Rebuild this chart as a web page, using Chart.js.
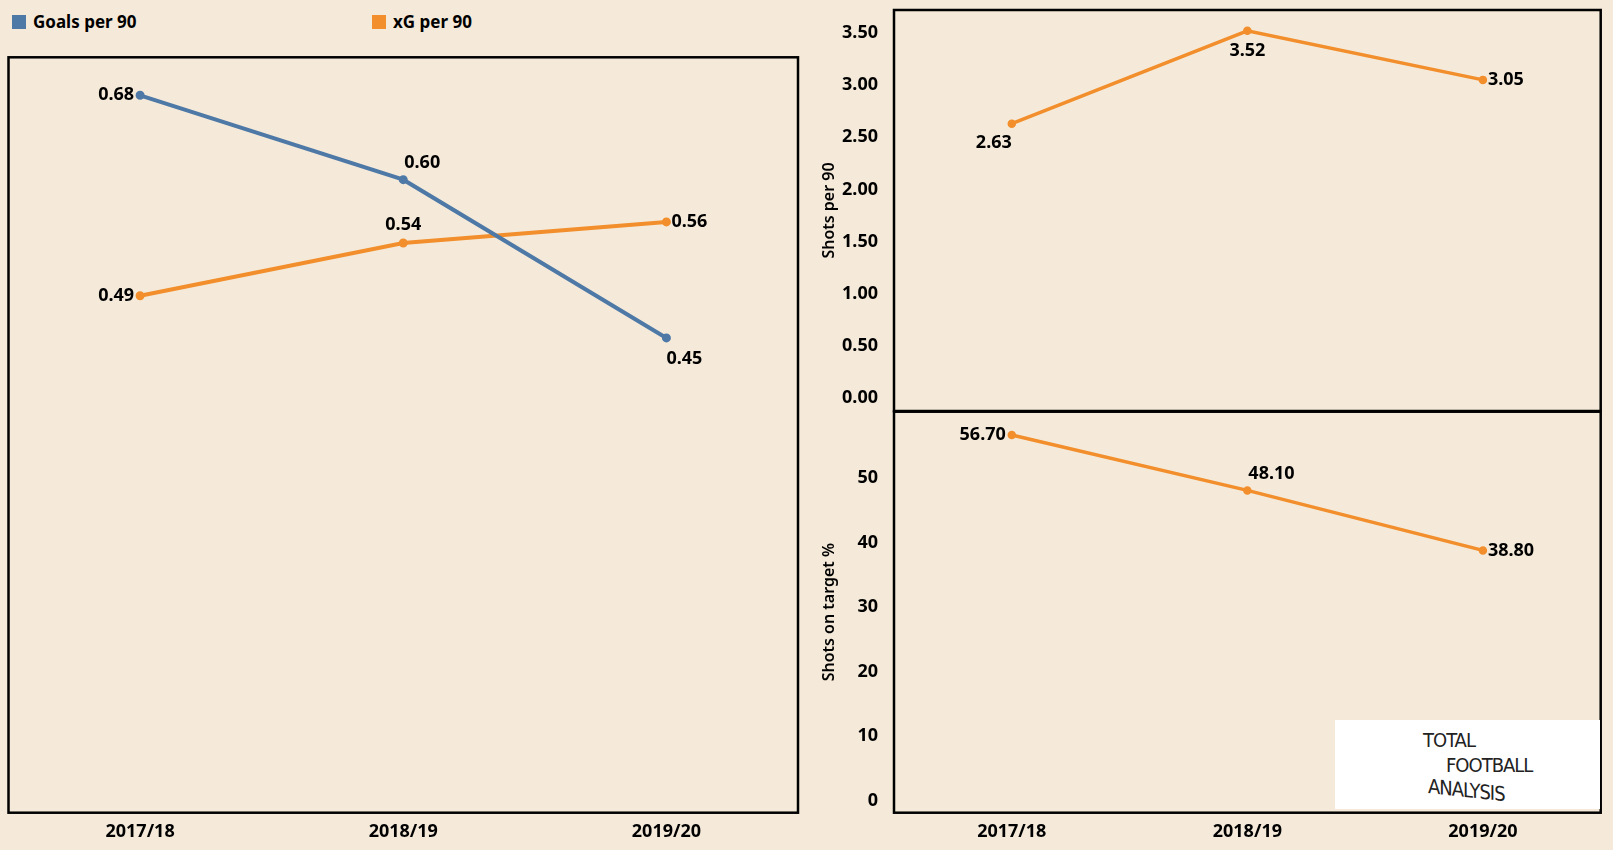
<!DOCTYPE html>
<html lang="en">
<head>
    <meta charset="UTF-8">
    <title>Goals, xG and shots per season</title>
    <script src="https://cdn.jsdelivr.net/npm/chart.js"></script>
    <style>
        body {
            margin: 0;
            padding: 0;
            width: 1613px;
            height: 850px;
            background-color: #f5ead9;
            font-family: "Noto Sans", sans-serif;
            position: relative;
            overflow: hidden;
        }
        canvas { position: absolute; }
        .legend-item {
            position: absolute;
            top: 10px;
            display: flex;
            align-items: center;
            font-size: 17px;
            font-weight: 700;
            color: #000;
        }
        .legend-item .swatch {
            width: 14px;
            height: 14px;
            margin-right: 7px;
        }
        /* logo box in the bottom right */
        .logo {
            position: absolute;
            left: 1335px;
            top: 720px;
            width: 265px;
            height: 89px;
            background: #fff;
            font-family: "Liberation Sans Narrow", "DejaVu Sans Condensed", sans-serif;
            color: #222;
            font-size: 20px;
            line-height: 20px;
            z-index: 5;
        }
        .logo span { position: absolute; letter-spacing: -1px; }
    </style>
</head>
<body>

    <!-- legend -->
    <div class="legend-item" style="left:12px"><div class="swatch" style="background:#4e79a7"></div>Goals per 90</div>
    <div class="legend-item" style="left:372px"><div class="swatch" style="background:#f28e2b"></div>xG per 90</div>

    <canvas id="goalsChart" width="812" height="850" style="left:0;top:0"></canvas>
    <canvas id="shotsChart" width="833" height="420" style="left:780px;top:0"></canvas>
    <canvas id="sotChart" width="833" height="450" style="left:780px;top:400px"></canvas>

    <div class="logo">
        <span style="left:88px;top:10px">TOTAL</span>
        <span style="left:111px;top:35px">FOOTBALL</span>
        <span style="left:93px;top:60px;transform:skewY(6deg)">ANALYSIS</span>
    </div>

    <script>
        // data
        const seasons = ['2017/18', '2018/19', '2019/20'];
        const goalsPer90 = [0.68, 0.60, 0.45];
        const xgPer90 = [0.49, 0.54, 0.56];
        const shotsPer90 = [2.63, 3.52, 3.05];
        const shotsOnTarget = [56.70, 48.10, 38.80];
        const shotsTicks = [0, 0.5, 1, 1.5, 2, 2.5, 3, 3.5];
        const sotTicks = [0, 10, 20, 30, 40, 50];

        const BLUE = '#4e79a7';
        const ORANGE = '#f28e2b';
        const FONT = '"Noto Sans", sans-serif';

        // black frame around the plot area
        const framePlugin = {
            id: 'frame',
            afterDraw(chart) {
                const a = chart.chartArea;
                const ctx = chart.ctx;
                ctx.save();
                ctx.strokeStyle = '#000';
                ctx.lineWidth = 2.5;
                ctx.strokeRect(a.left, a.top, a.right - a.left, a.bottom - a.top);
                ctx.restore();
            }
        };

        // value labels next to each point
        const valueLabels = {
            id: 'valueLabels',
            afterDatasetsDraw(chart) {
                const ctx = chart.ctx;
                ctx.save();
                ctx.font = 'bold 18px ' + FONT;
                ctx.fillStyle = '#000';
                chart.data.datasets.forEach((ds, i) => {
                    chart.getDatasetMeta(i).data.forEach((pt, j) => {
                        const txt = ds.data[j].toFixed(2);
                        const pos = ds.labelPos[j];
                        let x = pt.x, y = pt.y;
                        ctx.textBaseline = 'middle';
                        if (pos === 'left') { ctx.textAlign = 'right'; x -= 6; }
                        else if (pos === 'right') { ctx.textAlign = 'left'; x += 5; }
                        else if (pos === 'above') { ctx.textAlign = 'center'; y -= 18; }
                        else if (pos === 'below') { ctx.textAlign = 'center'; y += 20; }
                        else if (pos === 'aboveRight') { ctx.textAlign = 'left'; x += 1; y -= 17; }
                        else if (pos === 'belowRight') { ctx.textAlign = 'left'; y += 21; }
                        else if (pos === 'belowLeft') { ctx.textAlign = 'right'; y += 19; }
                        ctx.fillText(txt, x, y);
                    });
                });
                ctx.restore();
            }
        };

        const tickFont = { family: FONT, size: 18, weight: 'bold' };

        function lineSet(label, data, color, width, labelPos) {
            return {
                label: label,
                data: data,
                borderColor: color,
                backgroundColor: color,
                borderWidth: width,
                pointRadius: 2.5,
                pointHoverRadius: 2.5,
                tension: 0,
                labelPos: labelPos
            };
        }

        // left chart: goals and xG per 90
        new Chart(document.getElementById('goalsChart'), {
            type: 'line',
            data: {
                labels: seasons,
                datasets: [
                    lineSet('Goals per 90', goalsPer90, BLUE, 4, ['left', 'aboveRight', 'belowRight']),
                    lineSet('xG per 90', xgPer90, ORANGE, 4, ['left', 'above', 'right'])
                ]
            },
            options: {
                responsive: false,
                animation: false,
                layout: { padding: { left: 8.5, right: 14, top: 57.3, bottom: 0 } },
                plugins: { legend: { display: false }, tooltip: { enabled: false } },
                scales: {
                    x: {
                        offset: true,
                        grid: { display: false },
                        border: { display: false },
                        ticks: { font: tickFont, color: '#000', padding: 0, maxRotation: 0 },
                        afterFit(s) { s.height = 37.3; s.paddingLeft = 0; s.paddingRight = 0; }
                    },
                    y: { display: false, min: 0, max: 0.716 }
                }
            },
            plugins: [framePlugin, valueLabels]
        });

        function rightY(title, min, max, ticks, decimals) {
            return {
                min: min,
                max: max,
                grid: { display: false },
                border: { display: false },
                title: { display: true, text: title, color: '#000', font: { family: FONT, size: 16, weight: 600 }, padding: { top: 4, bottom: 4 } },
                ticks: {
                    font: tickFont,
                    color: '#000',
                    padding: 8,
                    callback: v => v.toFixed(decimals)
                },
                afterBuildTicks(s) { s.ticks = ticks.map(v => ({ value: v })); },
                afterFit(s) { s.width = 78; s.paddingTop = 0; s.paddingBottom = 0; }
            };
        }

        // right top: shots per 90
        new Chart(document.getElementById('shotsChart'), {
            type: 'line',
            data: {
                labels: seasons,
                datasets: [lineSet('Shots per 90', shotsPer90, ORANGE, 3.5, ['belowLeft', 'below', 'right'])]
            },
            options: {
                responsive: false,
                animation: false,
                layout: { padding: { left: 36, right: 12.3, top: 10, bottom: 9 } },
                plugins: { legend: { display: false }, tooltip: { enabled: false } },
                scales: {
                    x: { display: false, offset: true },
                    y: rightY('Shots per 90', -0.125, 3.72, shotsTicks, 2)
                }
            },
            plugins: [framePlugin, valueLabels]
        });

        // right bottom: shots on target %
        new Chart(document.getElementById('sotChart'), {
            type: 'line',
            data: {
                labels: seasons,
                datasets: [lineSet('Shots on target %', shotsOnTarget, ORANGE, 3.5, ['left', 'aboveRight', 'right'])]
            },
            options: {
                responsive: false,
                animation: false,
                layout: { padding: { left: 36, right: 12.3, top: 11.7, bottom: 0 } },
                plugins: { legend: { display: false }, tooltip: { enabled: false } },
                scales: {
                    x: {
                        offset: true,
                        grid: { display: false },
                        border: { display: false },
                        ticks: { font: tickFont, color: '#000', padding: 0, maxRotation: 0 },
                        afterFit(s) { s.height = 37.3; s.paddingLeft = 0; s.paddingRight = 0; }
                    },
                    y: rightY('Shots on target %', -1.86, 60.3, sotTicks, 0)
                }
            },
            plugins: [framePlugin, valueLabels]
        });
    </script>
</body>
</html>
